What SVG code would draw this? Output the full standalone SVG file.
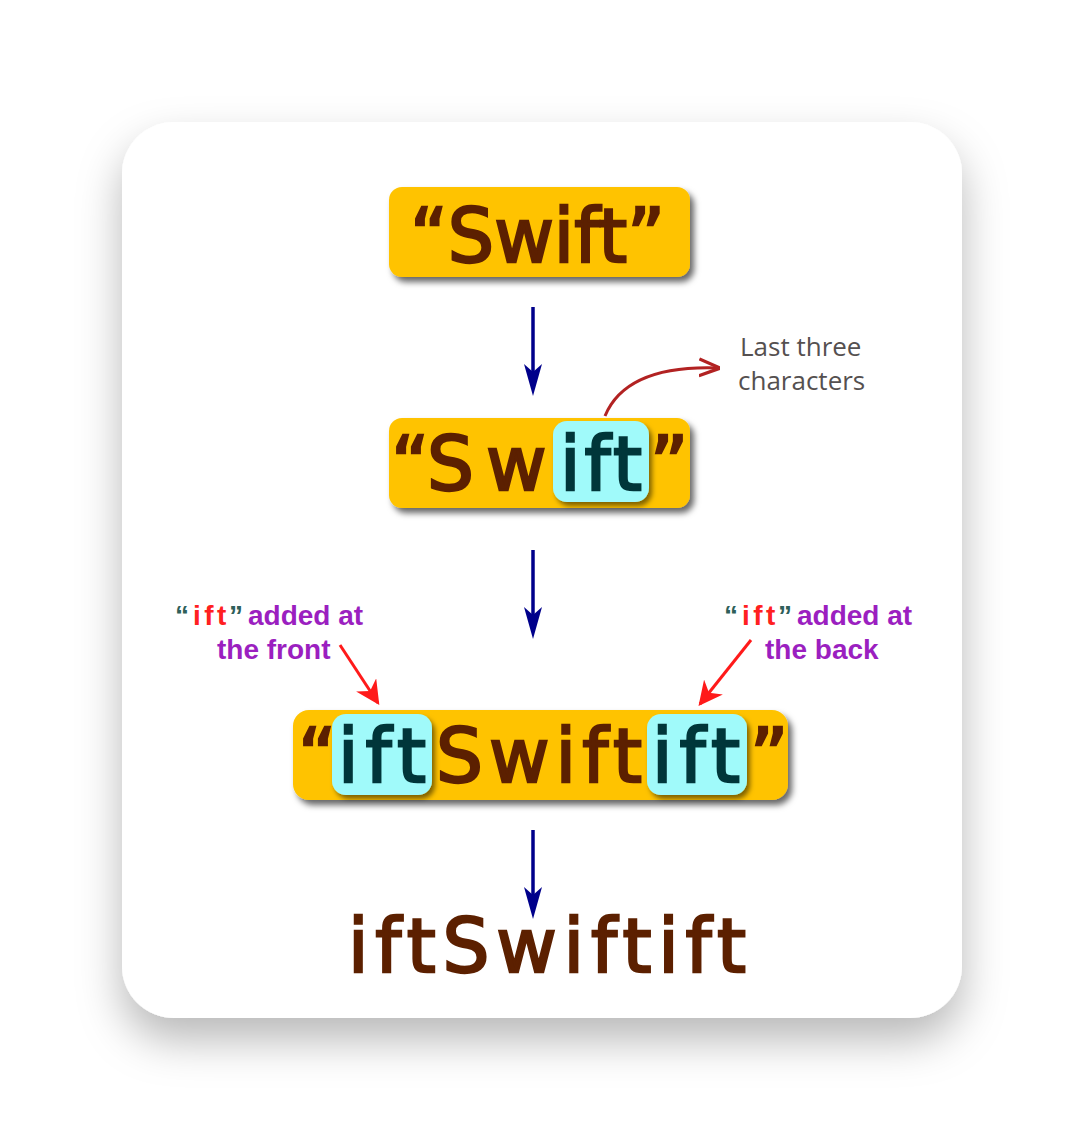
<svg xmlns="http://www.w3.org/2000/svg" width="1084" height="1140" viewBox="0 0 1084 1140">
<defs>
<filter id="card" x="-20%" y="-20%" width="140%" height="150%"><feDropShadow dx="0" dy="22" stdDeviation="22" flood-color="#000" flood-opacity="0.28"/></filter>
<filter id="sh" x="-10%" y="-20%" width="125%" height="150%"><feDropShadow dx="4" dy="5" stdDeviation="3" flood-color="#000" flood-opacity="0.6"/></filter>
<filter id="sh2" x="-20%" y="-20%" width="140%" height="150%"><feDropShadow dx="3" dy="4" stdDeviation="2.5" flood-color="#000" flood-opacity="0.5"/></filter>
<marker id="red" viewBox="0 0 10 10" refX="9" refY="5" markerWidth="8" markerHeight="8" orient="auto"><path d="M0,0 L10,5 L0,10 L3,5 Z" fill="#FF1A1A"/></marker>
<marker id="dred" viewBox="0 0 10 10" refX="9" refY="5" markerWidth="7" markerHeight="7" orient="auto"><path d="M0,1 L10,5 L0,9" fill="none" stroke="#B22222" stroke-width="1.6"/></marker>
<style>
.box{fill:#FFC300;}
.cy{fill:#A0FAFA;}
.big{font-family:"DejaVu Sans",Verdana,sans-serif;font-size:74px;fill:#5C2000;stroke:#5C2000;stroke-width:2.4px;}
.dk{fill:#00363A;stroke:#00363A;}
.lbl{font-family:"Liberation Sans",Arial,sans-serif;font-weight:bold;font-size:28px;fill:#9B1FC0;}
.q{fill:#2F5F5A;}
.r{fill:#FF2020;letter-spacing:3.5px;}
.note{font-family:"Open Sans","DejaVu Sans",sans-serif;font-size:26px;fill:#555050;}
.ba{stroke:#00008B;stroke-width:3.5;fill:none;}
.bh{fill:#00008B;}
</style>
</defs>
<rect width="1084" height="1140" fill="#fff"/>
<rect x="122" y="122" width="840" height="896" rx="52" fill="#fff" filter="url(#card)"/>

<g id="node1">
<rect class="box" x="389" y="187" width="301" height="90" rx="13" filter="url(#sh)"/>
<text class="big" x="410" y="262" textLength="255" lengthAdjust="spacingAndGlyphs">“Swift”</text>
</g>

<g id="node2">
<rect class="box" x="389" y="418" width="301" height="90" rx="13" filter="url(#sh)"/>
<rect class="cy" x="553" y="421" width="96" height="81" rx="14" filter="url(#sh2)"/>
<text class="big" x="391" y="490">“</text>
<text class="big" x="427" y="490">S</text>
<text class="big" x="486" y="490">w</text>
<text class="big dk" x="560" y="490" textLength="82" lengthAdjust="spacing">ift</text>
<text class="big" x="650" y="490">”</text>
</g>

<g id="note">
<text class="note" x="740" y="356">Last three</text>
<text class="note" x="738" y="390">characters</text>
</g>

<g id="label-front">
<text class="lbl" y="625"><tspan class="q" x="175">“</tspan><tspan class="r" x="193">ift</tspan><tspan class="q" x="229">”</tspan><tspan x="248">added at</tspan></text>
<text class="lbl" x="217" y="659">the front</text>
</g>
<g id="label-back">
<text class="lbl" y="625"><tspan class="q" x="724">“</tspan><tspan class="r" x="742">ift</tspan><tspan class="q" x="778">”</tspan><tspan x="797">added at</tspan></text>
<text class="lbl" x="765" y="659">the back</text>
</g>

<g id="node3">
<rect class="box" x="293" y="710" width="495" height="90" rx="16" filter="url(#sh)"/>
<rect class="cy" x="332" y="714" width="100" height="81" rx="14" filter="url(#sh2)"/>
<rect class="cy" x="647" y="714" width="100" height="81" rx="14" filter="url(#sh2)"/>
<text class="big" x="298" y="782">“</text>
<text class="big dk" x="338" y="782" textLength="88" lengthAdjust="spacing">ift</text>
<text class="big" x="436" y="782" textLength="206" lengthAdjust="spacing">Swift</text>
<text class="big dk" x="652" y="782" textLength="88" lengthAdjust="spacing">ift</text>
<text class="big" x="750" y="782">”</text>
</g>

<g id="result">
<text class="big" x="348" y="972" textLength="398" lengthAdjust="spacing">iftSwiftift</text>
</g>

<g id="connectors">
<path class="ba" d="M533,307 V375"/>
<path class="bh" d="M533,396 L524,364 L533,372 L542,364 Z"/>
<path class="ba" d="M533,550 V618"/>
<path class="bh" d="M533,639 L524,607 L533,615 L542,607 Z"/>
<path class="ba" d="M533,830 V898"/>
<path class="bh" d="M533,919 L524,887 L533,895 L542,887 Z"/>
<path d="M340,645 L378,703" stroke="#FF1A1A" stroke-width="3" fill="none" marker-end="url(#red)"/>
<path d="M751,640 L700,704" stroke="#FF1A1A" stroke-width="3" fill="none" marker-end="url(#red)"/>
<path d="M605,416 C620,380 660,366 718,368" stroke="#B22222" stroke-width="3" fill="none" marker-end="url(#dred)"/>
</g>
</svg>
